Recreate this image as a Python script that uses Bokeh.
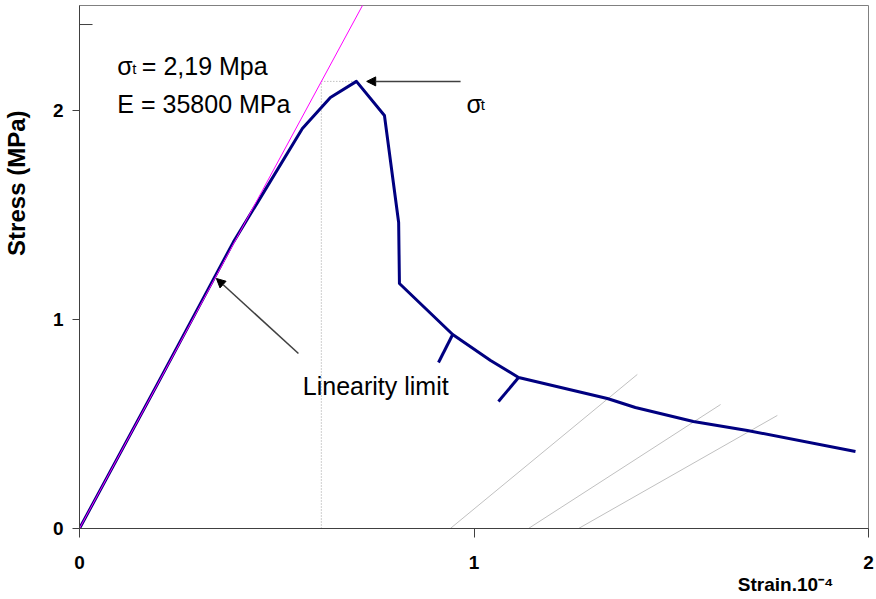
from bokeh.plotting import figure
from bokeh.models import Range1d, FixedTicker, Label, Arrow, NormalHead, Title
from bokeh.embed import file_html
from bokeh.resources import INLINE

# ---- data (strain in 1e-4, stress in MPa) ----
strain = [0, 0.20, 0.39, 0.453, 0.565, 0.636, 0.702, 0.773, 0.809, 0.811,
          0.946, 1.042, 1.113, 1.338, 1.409, 1.556, 1.693, 1.967]
stress = [0, 0.70, 1.37, 1.565, 1.914, 2.062, 2.139, 1.976, 1.464, 1.172,
          0.928, 0.804, 0.722, 0.622, 0.579, 0.512, 0.469, 0.368]

# elastic (linear) line E
linear_x = [0, 0.75]
linear_y = [0, 2.616]

# unloading marks on the softening branch
mark1_x = [0.946, 0.910]
mark1_y = [0.928, 0.794]
mark2_x = [1.113, 1.062]
mark2_y = [0.722, 0.608]

# grey unloading lines
unload1_x = [0.940, 1.414]
unload1_y = [0.0, 0.737]
unload2_x = [1.138, 1.625]
unload2_y = [0.0, 0.593]
unload3_x = [1.265, 1.769]
unload3_y = [0.0, 0.541]

# dotted guide to the peak
guide_v_x = [0.613, 0.613]
guide_v_y = [0.0, 2.139]
guide_h_x = [0.613, 0.702]
guide_h_y = [2.139, 2.139]

x_ticks = [0, 1, 2]
y_ticks = [0, 1, 2]

FONT = "Liberation Sans"

p = figure(width=876, height=599, output_backend="svg", toolbar_location=None,
           x_range=Range1d(0, 2), y_range=Range1d(0, 2.502),
           min_border_left=79, min_border_right=8, min_border_top=5,
           min_border_bottom=71)
p.background_fill_color = "white"
p.border_fill_color = "white"
p.outline_line_color = "#808080"
p.outline_line_width = 1
p.xgrid.visible = False
p.ygrid.visible = False

p.xaxis.ticker = FixedTicker(ticks=x_ticks)
p.yaxis.ticker = FixedTicker(ticks=y_ticks)
for ax in (p.xaxis[0], p.yaxis[0]):
    ax.axis_line_color = "#404040"
    ax.major_tick_line_color = "#404040"
    ax.minor_tick_line_color = None
    ax.major_tick_in = 0
    ax.major_label_text_font = FONT
    ax.major_label_text_font_style = "bold"
    ax.major_label_text_font_size = "19px"
    ax.major_label_text_color = "black"
p.xaxis.major_tick_out = 9
p.xaxis.major_label_standoff = 18
p.yaxis.major_tick_out = 7
p.yaxis.major_label_standoff = 9

# axis titles as side titles (placed off-centre like the original);
# the blank second line pushes the vertical title away from the axis
p.add_layout(Title(text="Stress (MPa)\n\u00a0", align="right", offset=105,
                   text_font=FONT, text_font_size="24px", text_color="black",
                   text_line_height=0.74,
                   text_font_style="bold", standoff=0), "left")
p.add_layout(Title(text="Strain.10⁻⁴", align="right", offset=35,
                   text_font=FONT, text_font_size="19px", text_color="black",
                   text_font_style="bold", standoff=0), "below")

# lines
p.line(unload1_x, unload1_y, line_color="#c0c0c0", line_width=1)
p.line(unload2_x, unload2_y, line_color="#c0c0c0", line_width=1)
p.line(unload3_x, unload3_y, line_color="#c0c0c0", line_width=1)
p.line(guide_v_x, guide_v_y, line_color="#a0a0a0", line_width=1, line_dash="1 2")
p.line(guide_h_x, guide_h_y, line_color="#a0a0a0", line_width=1, line_dash="1 2")
p.line(strain, stress, line_color="#000080", line_width=3, line_join="round")
p.line(linear_x, linear_y, line_color="#ff00ff", line_width=1)
p.line(mark1_x, mark1_y, line_color="#000080", line_width=3)
p.line(mark2_x, mark2_y, line_color="#000080", line_width=3)

# arrows
p.add_layout(Arrow(x_start=0.966, y_start=2.139, x_end=0.728, y_end=2.139,
                   line_color="#404040", line_width=1.5,
                   end=NormalHead(size=9, fill_color="black", line_color="black")))
p.add_layout(Arrow(x_start=0.555, y_start=0.837, x_end=0.347, y_end=1.196,
                   line_color="#404040", line_width=1.5,
                   end=NormalHead(size=9, fill_color="black", line_color="black")))

# short stray tick at the top of the value axis
p.add_layout(Arrow(x_start=0.0, y_start=2.411, x_end=0.033, y_end=2.411, end=None,
                   line_color="#404040", line_width=1))


def lab(x, y, text, size, **kw):
    opts = dict(text_font=FONT, text_font_size=size, text_color="black",
                text_baseline="alphabetic")
    opts.update(kw)
    p.add_layout(Label(x=x, y=y, text=text, **opts))


# text annotations
lab(0.096, 2.211, "σ", "25px")
lab(0.134, 2.201, "t", "15px")
lab(0.158, 2.211, "= 2,19 Mpa", "25px")
lab(0.096, 2.033, "E = 35800 MPa", "25px")
lab(0.566, 0.684, "Linearity limit", "25px")
lab(0.981, 2.033, "σ", "25px")
lab(1.017, 2.028, "t", "15px")

open("out.html", "w").write(file_html(p, INLINE))
